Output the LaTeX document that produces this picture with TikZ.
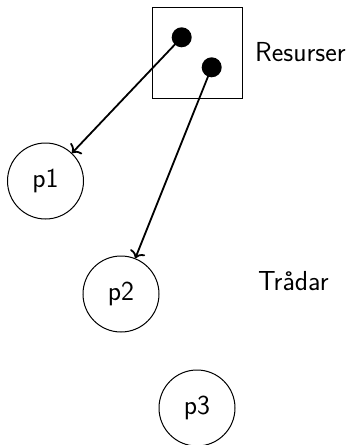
\documentclass[tikz,border=0pt]{standalone}
\usetikzlibrary{arrows.meta}
\begin{document}
\begin{tikzpicture}[x=1pt,y=-1pt,
  txt/.style={font=\fontsize{27.5}{32}\selectfont\sffamily},
  proc/.style={circle,draw,line width=1pt,minimum size=76pt,inner sep=0pt,txt},
  res/.style={circle,fill=black,minimum size=20pt,inner sep=0pt},
  ptr/.style={line width=1.8pt,-{To[length=7pt,width=16pt,line width=1.8pt]}}]
\useasboundingbox (0,0) rectangle (358,445);
\node[draw,line width=1pt,minimum width=90pt,minimum height=91pt,inner sep=0pt] (box) at (197,52.5) {};
\node[res] (r1) at (181.7,37.3) {};
\node[res] (r2) at (211.7,67.3) {};
\node[txt,anchor=west,inner sep=0pt] (lres) at (255,52) {Resurser};
\node[proc] (p1) at (45.5,181) {p1};
\node[proc] (p2) at (121,294) {p2};
\node[proc] (p3) at (197,408) {p3};
\node[txt,anchor=west,inner sep=0pt] (lthr) at (258,281) {Trådar};
\draw[ptr] (r1.center) -- (p1);
\draw[ptr] (r2.center) -- (p2);
\end{tikzpicture}
\end{document}
